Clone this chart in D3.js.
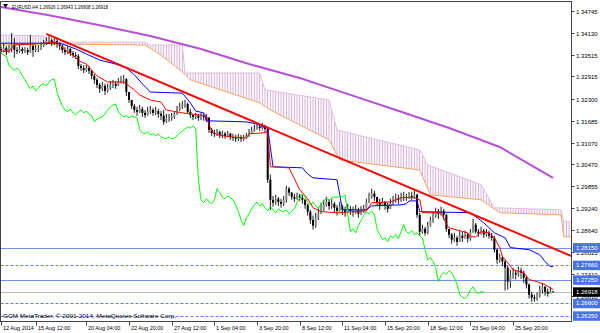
<!DOCTYPE html>
<html><head><meta charset="utf-8">
<script src="https://cdn.jsdelivr.net/npm/d3@7"></script>
<style>body{margin:0;background:#fff}svg{display:block}text{font-family:"Liberation Sans",Arial,sans-serif}</style>
</head><body><svg id="c" width="600" height="333"></svg>
<script>
// ---------- DATA ----------
const symbolTitle = "EURUSD,H4  1.26926 1.26943 1.26908 1.26918";
const copyright = "GCM MetaTrader, \u00A9 2001-2014, MetaQuotes Software Corp.";
const firstOpen = 1.3368;
const closes = [
1.3365,1.3371,1.3359,1.3368,1.3379,1.3365,1.3362,1.3368,
1.3362,1.3365,1.3359,1.3376,1.3365,1.3368,1.3371,1.3376,
1.3384,1.3390,1.3393,1.3384,1.3390,1.3382,1.3376,1.3365,
1.3359,1.3368,1.3357,1.3351,1.3348,1.3321,1.3315,1.3309,
1.3315,1.3307,1.3293,1.3282,1.3268,1.3257,1.3265,1.3251,
1.3259,1.3268,1.3271,1.3265,1.3276,1.3282,1.3284,1.3248,
1.3226,1.3209,1.3198,1.3193,1.3201,1.3190,1.3184,1.3193,
1.3198,1.3190,1.3195,1.3187,1.3182,1.3165,1.3173,1.3176,
1.3179,1.3187,1.3198,1.3207,1.3212,1.3215,1.3193,1.3184,
1.3179,1.3182,1.3176,1.3182,1.3179,1.3176,1.3143,1.3134,
1.3132,1.3137,1.3129,1.3132,1.3126,1.3132,1.3123,1.3120,
1.3118,1.3123,1.3118,1.3120,1.3126,1.3134,1.3140,1.3145,
1.3151,1.3148,1.3154,1.3145,1.3004,1.2948,1.2940,1.2951,
1.2942,1.2937,1.2948,1.2979,1.2968,1.2956,1.2951,1.2959,
1.2954,1.2948,1.2934,1.2915,1.2892,1.2876,1.2898,1.2909,
1.2923,1.2934,1.2942,1.2931,1.2937,1.2926,1.2917,1.2929,
1.2920,1.2912,1.2923,1.2917,1.2915,1.2920,1.2909,1.2917,
1.2923,1.2940,1.2954,1.2965,1.2956,1.2940,1.2934,1.2942,
1.2931,1.2923,1.2937,1.2945,1.2951,1.2948,1.2954,1.2956,
1.2954,1.2959,1.2956,1.2962,1.2906,1.2859,1.2867,1.2856,
1.2876,1.2890,1.2904,1.2915,1.2909,1.2917,1.2906,1.2867,
1.2851,1.2837,1.2842,1.2831,1.2848,1.2842,1.2851,1.2840,
1.2859,1.2879,1.2859,1.2854,1.2862,1.2851,1.2856,1.2848,
1.2842,1.2809,1.2781,1.2787,1.2776,1.2759,1.2720,1.2737,
1.2745,1.2740,1.2751,1.2745,1.2731,1.2712,1.2684,1.2676,
1.2673,1.2681,1.2698,1.2706,1.2692,1.2687,1.26926,1.26918];
const highs = [
1.3376,1.3382,1.3376,1.3379,1.3412,1.3398,1.3373,1.3379,
1.3373,1.3373,1.3371,1.3407,1.3382,1.3379,1.3379,1.3387,
1.3393,1.3401,1.3404,1.3398,1.3401,1.3396,1.3387,1.3379,
1.3373,1.3376,1.3371,1.3362,1.3359,1.3354,1.3326,1.3323,
1.3323,1.3321,1.3309,1.3298,1.3287,1.3273,1.3276,1.3271,
1.3271,1.3279,1.3282,1.3279,1.3287,1.3293,1.3296,1.3287,
1.3248,1.3226,1.3215,1.3207,1.3212,1.3207,1.3198,1.3207,
1.3209,1.3204,1.3207,1.3201,1.3195,1.3198,1.3187,1.3187,
1.3190,1.3195,1.3209,1.3218,1.3223,1.3226,1.3218,1.3201,
1.3187,1.3190,1.3187,1.3190,1.3187,1.3187,1.3179,1.3148,
1.3143,1.3145,1.3140,1.3140,1.3137,1.3140,1.3134,1.3132,
1.3129,1.3132,1.3129,1.3129,1.3134,1.3145,1.3151,1.3157,
1.3159,1.3159,1.3162,1.3157,1.3148,1.3018,1.2959,1.2962,
1.2956,1.2951,1.2959,1.2987,1.2984,1.2970,1.2965,1.2968,
1.2965,1.2962,1.2951,1.2937,1.2920,1.2904,1.2912,1.2926,
1.2940,1.2948,1.2956,1.2948,1.2951,1.2942,1.2934,1.2942,
1.2934,1.2929,1.2937,1.2931,1.2929,1.2934,1.2926,1.2931,
1.2934,1.2951,1.2968,1.2979,1.2973,1.2956,1.2951,1.2954,
1.2945,1.2940,1.2951,1.2959,1.2965,1.2962,1.2968,1.2970,
1.2965,1.2970,1.2970,1.2973,1.2965,1.2912,1.2879,1.2873,
1.2887,1.2901,1.2915,1.2926,1.2923,1.2929,1.2923,1.2909,
1.2867,1.2856,1.2856,1.2848,1.2862,1.2859,1.2862,1.2856,
1.2867,1.2895,1.2884,1.2867,1.2873,1.2867,1.2867,1.2862,
1.2856,1.2848,1.2812,1.2798,1.2792,1.2781,1.2764,1.2753,
1.2759,1.2753,1.2762,1.2759,1.2751,1.2737,1.2715,1.2692,
1.2684,1.2690,1.2709,1.2717,1.2709,1.2701,1.2706,1.26943];
const lows = [
1.3357,1.3359,1.3351,1.3357,1.3359,1.3343,1.3354,1.3357,
1.3354,1.3357,1.3351,1.3357,1.3346,1.3359,1.3359,1.3365,
1.3373,1.3379,1.3382,1.3376,1.3379,1.3371,1.3365,1.3357,
1.3351,1.3354,1.3348,1.3343,1.3340,1.3312,1.3307,1.3301,
1.3304,1.3298,1.3284,1.3271,1.3259,1.3246,1.3251,1.3240,
1.3246,1.3254,1.3259,1.3257,1.3265,1.3271,1.3271,1.3237,
1.3218,1.3201,1.3190,1.3182,1.3190,1.3179,1.3176,1.3182,
1.3187,1.3182,1.3184,1.3176,1.3170,1.3157,1.3162,1.3165,
1.3168,1.3173,1.3184,1.3195,1.3201,1.3204,1.3187,1.3176,
1.3170,1.3173,1.3168,1.3170,1.3168,1.3165,1.3134,1.3126,
1.3123,1.3126,1.3120,1.3120,1.3118,1.3123,1.3115,1.3112,
1.3109,1.3112,1.3109,1.3112,1.3118,1.3123,1.3132,1.3137,
1.3143,1.3140,1.3143,1.3137,1.2995,1.2920,1.2929,1.2934,
1.2931,1.2926,1.2931,1.2940,1.2959,1.2948,1.2942,1.2948,
1.2945,1.2937,1.2923,1.2904,1.2881,1.2865,1.2870,1.2892,
1.2909,1.2917,1.2929,1.2920,1.2923,1.2912,1.2904,1.2915,
1.2906,1.2901,1.2912,1.2906,1.2901,1.2909,1.2898,1.2906,
1.2912,1.2920,1.2940,1.2951,1.2945,1.2931,1.2920,1.2931,
1.2920,1.2912,1.2926,1.2934,1.2940,1.2937,1.2942,1.2945,
1.2945,1.2951,1.2948,1.2951,1.2898,1.2848,1.2854,1.2848,
1.2852,1.2873,1.2884,1.2898,1.2895,1.2904,1.2892,1.2859,
1.2842,1.2826,1.2831,1.2820,1.2837,1.2831,1.2840,1.2829,
1.2834,1.2856,1.2854,1.2845,1.2851,1.2842,1.2845,1.2840,
1.2834,1.2801,1.2770,1.2773,1.2764,1.2695,1.2698,1.2703,
1.2728,1.2726,1.2734,1.2728,1.2717,1.2701,1.2673,1.2664,
1.2664,1.2667,1.2676,1.2687,1.2681,1.2678,1.2687,1.26908];
// indicator lines: [bar index, price]
const tenkan = [[0,1.3362],[3,1.3362],[5,1.3379],[12,1.3382],[16,1.3384],[21,1.3387],[23,1.3373],[25,1.3359],[27,1.3351],[28,1.3343],[30,1.3332],[32,1.3326],[34,1.3309],[36,1.3293],[40,1.3276],[46,1.3276],[48,1.3265],[50,1.3254],[52,1.3240],[56,1.3226],[60,1.3220],[62,1.3198],[68,1.3190],[77,1.3182],[78,1.3157],[79,1.3140],[81,1.3129],[86,1.3123],[92,1.3120],[93,1.3132],[98,1.3134],[100,1.3137],[101,1.3040],[108,1.3037],[112,1.2976],[115,1.2951],[117,1.2926],[120,1.2915],[126,1.2912],[137,1.2917],[139,1.2940],[146,1.2942],[150,1.2954],[155,1.2954],[157,1.2948],[158,1.2912],[165,1.2912],[167,1.2881],[168,1.2870],[175,1.2856],[176,1.2845],[178,1.2845],[180,1.2859],[183,1.2856],[185,1.2842],[187,1.2815],[188,1.2790],[190,1.2773],[192,1.2753],[196,1.2745],[198,1.2726],[201,1.2720],[204,1.2712],[207,1.2698]];
const kijun = [[0,1.3384],[22,1.3384],[24,1.3379],[28,1.3368],[32,1.3354],[37,1.3337],[43,1.3326],[47,1.3315],[50,1.3296],[53,1.3271],[56,1.3248],[68,1.3245],[71,1.3218],[73,1.3195],[76,1.3190],[77,1.3168],[92,1.3165],[96,1.3159],[98,1.3151],[100,1.3148],[102,1.3040],[113,1.3037],[115,1.3020],[117,1.3009],[126,1.3004],[127,1.2962],[128,1.2920],[137,1.2920],[139,1.2931],[150,1.2934],[152,1.2937],[153,1.2945],[156,1.2945],[157,1.2915],[176,1.2912],[178,1.2901],[181,1.2884],[183,1.2870],[185,1.2856],[189,1.2842],[191,1.2815],[198,1.2809],[202,1.2795],[204,1.2776],[206,1.2762],[207,1.2762]];
const longMA = [[0,1.3485],[18,1.3462],[37,1.3434],[56,1.3404],[75,1.3368],[93,1.3326],[112,1.3287],[131,1.3240],[150,1.3193],[168,1.3148],[187,1.3095],[207,1.3009]];
const spanB = [[0,1.3407],[16,1.3404],[18,1.3387],[54,1.3387],[56,1.3379],[68,1.3379],[69,1.3301],[97,1.3301],[99,1.3254],[123,1.3226],[126,1.3142],[157,1.3087],[160,1.3045],[180,1.2990],[185,1.2926],[210,1.2920],[211,1.2887],[215,1.2887]];
const spanA = [[0,1.3379],[18,1.3382],[54,1.3379],[60,1.3351],[68,1.3304],[71,1.3282],[97,1.3218],[101,1.3198],[123,1.3115],[127,1.3059],[157,1.3031],[161,1.2962],[180,1.2948],[187,1.2912],[210,1.2906],[211,1.2845],[215,1.2845]];
const chikouShift = 26;
const trendLine = [[17,1.3410],[214,1.2791]];
const solidLevels = [1.28150, 1.27250];
const dashedLevels = [1.27660, 1.26600, 1.26250];
const bidPrice = 1.26918;
const priceTicks = [1.34745,1.34130,1.33515,1.32915,1.32300,1.31685,1.31070,1.30470,1.29855,1.29240,1.28640,1.28025,1.27410,1.26810];
const timeTickBars = [0,13,32,48,64,80,96,112,128,144,160,176,192];
const timeTickLabels = ["12 Aug 2014","15 Aug 12:00","20 Aug 04:00","22 Aug 20:00","27 Aug 12:00","1 Sep 04:00","3 Sep 20:00","8 Sep 12:00","11 Sep 04:00","15 Sep 20:00","18 Sep 12:00","23 Sep 04:00","25 Sep 20:00"];

// ---------- DRAW ----------
const svg = d3.select("#c");
const P = {l:0.5, t:1.5, r:571.5, b:321.5};
const x = d3.scaleLinear().domain([0,214]).range([1, 1+214*2.667]);
const y = d3.scaleLinear().domain([1.34745,1.26810]).range([10.7,295.7]);

const defs = svg.append("defs");
defs.append("clipPath").attr("id","clip").append("rect")
  .attr("x",P.l).attr("y",P.t).attr("width",P.r-P.l).attr("height",P.b-P.t);
const pat = defs.append("pattern").attr("id","hatch").attr("patternUnits","userSpaceOnUse")
  .attr("width",2.667).attr("height",10).attr("x",x(0)-0.5);
pat.append("rect").attr("x",0).attr("y",0).attr("width",1).attr("height",10).attr("fill","#d8a9d8");

const g = svg.append("g").attr("clip-path","url(#clip)");

// cloud
const line = d3.line().x(d=>x(d[0])).y(d=>y(d[1]));
const polyPts = spanB.map(d=>[x(d[0]),y(d[1])]).concat(spanA.slice().reverse().map(d=>[x(d[0]),y(d[1])]));
g.append("path").attr("d","M"+polyPts.map(p=>p.join(",")).join("L")+"Z").attr("fill","url(#hatch)");
g.append("path").attr("d",line(spanB)).attr("fill","none").attr("stroke","#dcbfdc").attr("stroke-width",1);
g.append("path").attr("d",line(spanA)).attr("fill","none").attr("stroke","#f4a460").attr("stroke-width",1);

// long MA
g.append("path").attr("d",line(longMA)).attr("fill","none").attr("stroke","#b84fd8").attr("stroke-width",2);

// horizontal levels
solidLevels.forEach(v=>g.append("line").attr("x1",P.l).attr("x2",P.r).attr("y1",Math.round(y(v))+0.5).attr("y2",Math.round(y(v))+0.5).attr("stroke","#6f8ff0").attr("stroke-width",1));
dashedLevels.forEach(v=>g.append("line").attr("x1",P.l).attr("x2",P.r).attr("y1",Math.round(y(v))+0.5).attr("y2",Math.round(y(v))+0.5).attr("stroke","#5b7fe8").attr("stroke-width",1).attr("stroke-dasharray","3,2"));
g.append("line").attr("x1",P.l).attr("x2",P.r).attr("y1",Math.round(y(bidPrice))+0.5).attr("y2",Math.round(y(bidPrice))+0.5).attr("stroke","#b8b8b8").attr("stroke-width",1);

// candles
const bars = closes.map((c,i)=>{const o=i===0?firstOpen:closes[i-1];return {i,o,c,h:Math.max(highs[i],o,c),l:Math.min(lows[i],o,c)};});
const cg = g.append("g");
cg.selectAll("line.w").data(bars).join("line").attr("class","w")
  .attr("x1",d=>x(d.i)).attr("x2",d=>x(d.i)).attr("y1",d=>y(d.h)).attr("y2",d=>y(d.l))
  .attr("stroke","#000").attr("stroke-width",0.9);
cg.selectAll("rect.b").data(bars).join("rect").attr("class","b")
  .attr("x",d=>x(d.i)-1).attr("width",2)
  .attr("y",d=>y(Math.max(d.o,d.c))).attr("height",d=>Math.max(0.8,Math.abs(y(d.o)-y(d.c))))
  .attr("fill",d=>d.c>=d.o?"#8a8a8a":"#000");

// ichimoku lines
g.append("path").attr("d",line(kijun)).attr("fill","none").attr("stroke","#0000ff").attr("stroke-width",1);
g.append("path").attr("d",line(tenkan)).attr("fill","none").attr("stroke","#ff0000").attr("stroke-width",1);
const chikou = closes.map((c,i)=>[i-chikouShift,c]).filter(d=>d[0]>=0);
g.append("path").attr("d",line(chikou)).attr("fill","none").attr("stroke","#00ff00").attr("stroke-width",1);

// trend line
g.append("path").attr("d",line(trendLine)).attr("fill","none").attr("stroke","#ff0000").attr("stroke-width",2);

// frame
svg.append("rect").attr("x",P.l).attr("y",P.t).attr("width",P.r-P.l).attr("height",P.b-P.t)
  .attr("fill","none").attr("stroke","#444").attr("stroke-width",1);

// price axis
const ax = svg.append("g");
priceTicks.forEach(v=>{
  const yy=Math.round(y(v))+0.5;
  ax.append("line").attr("x1",P.r).attr("x2",P.r+3).attr("y1",yy).attr("y2",yy).attr("stroke","#444");
  ax.append("text").attr("x",576).attr("y",yy+2.2).attr("font-size",6).attr("fill","#000").text(v.toFixed(5));
});
function tag(v,fill){
  const yy=y(v);
  ax.append("rect").attr("x",573).attr("y",yy-4.5).attr("width",27).attr("height",9.5).attr("fill",fill);
  ax.append("text").attr("x",576).attr("y",yy+2.2).attr("font-size",6).attr("fill","#fff").text(v.toFixed(5));
}
solidLevels.concat(dashedLevels).forEach(v=>tag(v,"#4a74e6"));
tag(bidPrice,"#000");

// time axis
timeTickBars.forEach((b,k)=>{
  const xx=Math.round(x(b))+0.5;
  ax.append("line").attr("x1",xx).attr("x2",xx).attr("y1",P.b).attr("y2",P.b+4).attr("stroke","#444");
  ax.append("text").attr("x",xx+1.5).attr("y",330).attr("font-size",5.5).attr("fill","#000").text(timeTickLabels[k]);
});

// title & copyright
svg.append("path").attr("d","M3,4L8,4L5.5,8Z").attr("fill","#000");
svg.append("text").attr("x",12).attr("y",8.5).attr("font-size",6).attr("fill","#000")
  .attr("textLength",96).attr("lengthAdjust","spacingAndGlyphs").text(symbolTitle);
svg.append("text").attr("x",3).attr("y",318).attr("font-size",6).attr("fill","#000")
  .attr("textLength",173).attr("lengthAdjust","spacingAndGlyphs").text(copyright);
</script></body></html>
